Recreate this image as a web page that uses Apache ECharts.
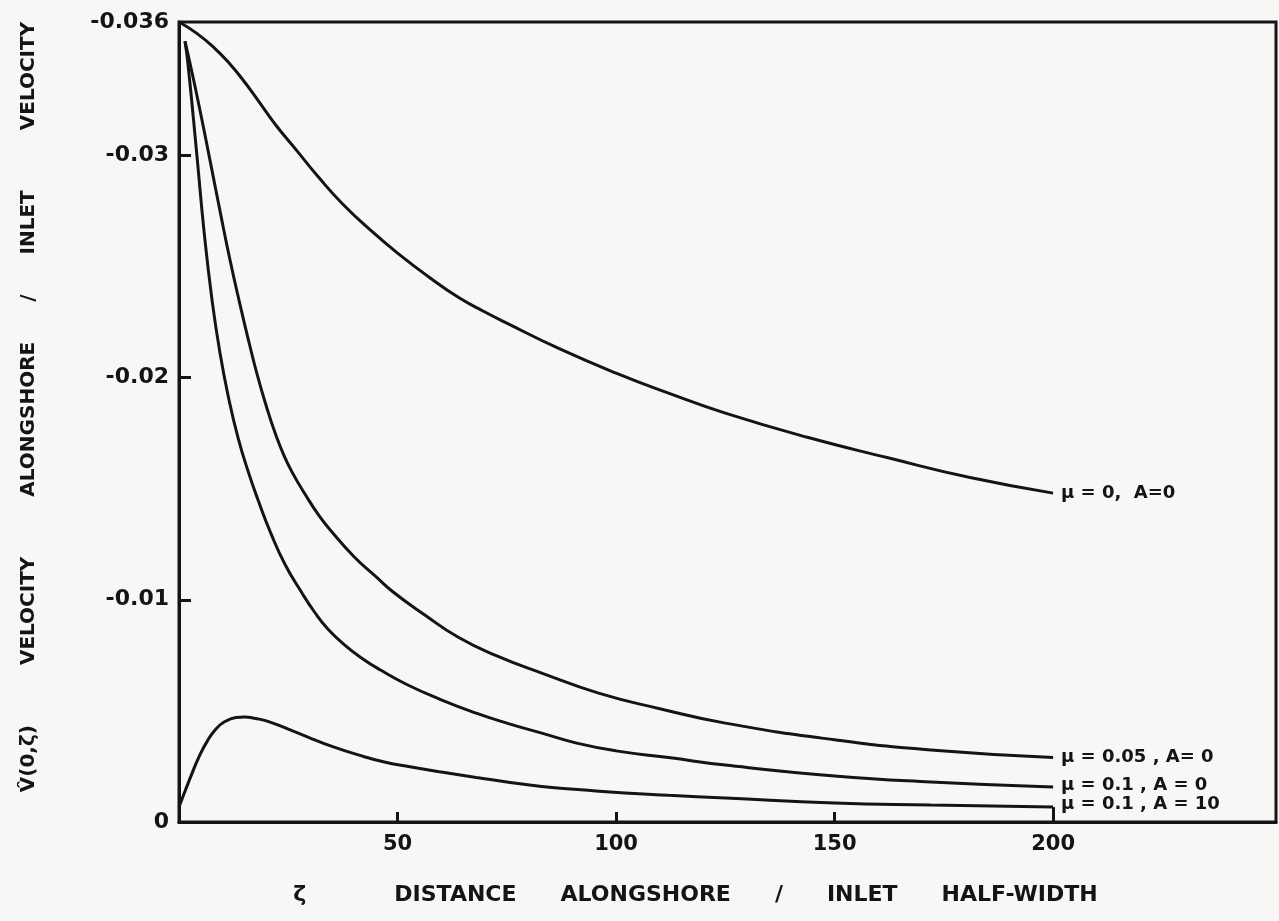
<!DOCTYPE html>
<html><head><meta charset="utf-8">
<script src="https://cdn.jsdelivr.net/npm/echarts@6/dist/echarts.min.js"></script>
<style>html,body{margin:0;padding:0;background:#f7f7f5}#c{width:1279px;height:921px}</style>
</head><body><div id="c"></div>
<script>
// distance alongshore / inlet half-width (x) and velocity ratio (y)
const xMu0A0 = [0, 4, 8, 11.7, 15, 17.8, 22, 27, 32, 37.5, 44, 50, 57, 64, 70, 75, 87, 100, 112, 125, 144, 162, 181, 200];
const yMu0A0 = [-0.0360, -0.0355, -0.03485, -0.0341, -0.0333, -0.03255, -0.0314, -0.0302, -0.0290, -0.0278, -0.0266, -0.0256, -0.02455, -0.0236, -0.02295, -0.02245, -0.0213, -0.0202, -0.0193, -0.0184, -0.0173, -0.0164, -0.0155, -0.0148];

const xMu005A0 = [1.37, 2.52, 4.8, 7.09, 9.38, 11.66, 14, 16, 18, 20, 22, 24, 26, 29, 32, 35, 40, 45, 49, 56, 64, 73, 83, 96, 110, 125, 150, 172, 200];
const yMu005A0 = [-0.03513, -0.03414, -0.03203, -0.02978, -0.0275, -0.0253, -0.02325, -0.0216, -0.02005, -0.0187, -0.0175, -0.0165, -0.0157, -0.0147, -0.0138, -0.01305, -0.01195, -0.01105, -0.01035, -0.00935, -0.0083, -0.00745, -0.0067, -0.0058, -0.0051, -0.00445, -0.0037, -0.00324, -0.0029];

const xMu01A0 = [1.37, 2.06, 4.0, 5.72, 7.55, 9.38, 11.43, 13.5, 15.78, 18.07, 21, 24.24, 28, 31, 34, 38, 42, 46, 52, 60, 68, 75, 83, 91, 100, 112, 125, 150, 172, 200];
const yMu01A0 = [-0.03513, -0.0341, -0.0302, -0.0266, -0.0235, -0.0211, -0.0190, -0.0173, -0.0158, -0.0145, -0.0130, -0.0116, -0.01035, -0.00945, -0.0087, -0.00795, -0.00735, -0.00685, -0.0062, -0.0055, -0.0049, -0.00445, -0.0040, -0.00355, -0.0032, -0.0029, -0.00256, -0.00207, -0.0018, -0.00157];

const xMu01A10 = [0, 1.5, 3, 4.5, 6.5, 8.5, 10.5, 13, 15, 17.5, 20.5, 25, 29.5, 35, 41, 47, 52.5, 60, 68, 75, 83, 92, 102, 112, 125, 150, 172, 200];
const yMu01A10 = [-0.00067, -0.00145, -0.0022, -0.0029, -0.00365, -0.0042, -0.00452, -0.0047, -0.00473, -0.00466, -0.00452, -0.00418, -0.00382, -0.0034, -0.00302, -0.0027, -0.0025, -0.00225, -0.0020, -0.0018, -0.0016, -0.00145, -0.0013, -0.0012, -0.00108, -0.00085, -0.00076, -0.00067];

const seriesLabels = ['\u03BC = 0,  A=0', '\u03BC = 0.05 , A= 0', '\u03BC = 0.1 , A = 0', '\u03BC = 0.1 , A = 10'];
const xTicks = [50, 100, 150, 200];
const yTicks = [-0.036, -0.03, -0.02, -0.01, 0];

const ink = '#141414';
const font = '"DejaVu Sans", sans-serif';
const zip = (xs, ys) => xs.map((x, i) => [x, ys[i]]);
const E = '\u2003';

function lineSeries(name, data, label, offset) {
  return {
    name, type: 'line', data, showSymbol: false, smooth: 0.5,
    lineStyle: { color: ink, width: 3 }, itemStyle: { color: ink },
    endLabel: { show: true, formatter: () => label, color: ink, fontFamily: font, fontWeight: 'bold', fontSize: 18, distance: 8, offset: offset || [0, 0] },
    emphasis: { disabled: true }
  };
}

const a10 = zip(xMu01A10, yMu01A10);
const last = a10[a10.length - 1];

const chart = echarts.init(document.getElementById('c'), null, { renderer: 'canvas' });
chart.setOption({
  animation: false,
  backgroundColor: '#f7f7f5',
  grid: { left: 179, right: 3, top: 22, bottom: 99, show: true, borderColor: ink, borderWidth: 3, backgroundColor: 'transparent' },
  xAxis: {
    type: 'value', min: 0, max: 251,
    name: '\u03B6' + E + E + E + E + 'DISTANCE' + E + E + 'ALONGSHORE' + E + E + '/' + E + E + 'INLET' + E + E + 'HALF-WIDTH',
    nameLocation: 'middle', nameGap: 62,
    nameTextStyle: { color: ink, fontFamily: font, fontWeight: 'bold', fontSize: 22, padding: [0, 64, 0, 0] },
    axisLine: { show: true, onZero: false, lineStyle: { color: ink, width: 3 } },
    axisTick: { show: true, inside: true, length: 10, customValues: xTicks, lineStyle: { color: ink, width: 3 } },
    axisLabel: { customValues: xTicks, color: ink, fontFamily: font, fontWeight: 'bold', fontSize: 21, margin: 12 },
    splitLine: { show: false }
  },
  yAxis: {
    type: 'value', min: -0.036, max: 0, inverse: true,
    name: 'V\u0302(0,\u03B6)' + E + E + E + 'VELOCITY' + E + E + E + 'ALONGSHORE' + E + E + '/' + E + E + 'INLET' + E + E + E + 'VELOCITY',
    nameLocation: 'middle', nameGap: 140, nameRotate: 90,
    nameTextStyle: { color: ink, fontFamily: font, fontWeight: 'bold', fontSize: 20, padding: [0, 0, 0, 30] },
    axisLine: { show: true, onZero: false, lineStyle: { color: ink, width: 3 } },
    axisTick: { show: true, inside: true, length: 12, customValues: [-0.03, -0.02, -0.01], lineStyle: { color: ink, width: 3 } },
    axisLabel: { customValues: yTicks, color: ink, fontFamily: font, fontWeight: 'bold', fontSize: 22, margin: 10,
      formatter: v => v === 0 ? '0' : String(v) },
    splitLine: { show: false }
  },
  series: [
    lineSeries('mu0A0', zip(xMu0A0, yMu0A0), seriesLabels[0]),
    lineSeries('mu005A0', zip(xMu005A0, yMu005A0), seriesLabels[1]),
    lineSeries('mu01A0', zip(xMu01A0, yMu01A0), seriesLabels[2], [0, -2]),
    Object.assign(lineSeries('mu01A10', a10, seriesLabels[3], [0, -3]), {
      markLine: { silent: true, symbol: 'none', label: { show: false },
        lineStyle: { color: ink, width: 3, type: 'solid' },
        data: [[{ coord: [last[0], last[1]] }, { coord: [last[0], 0] }]] }
    })
  ]
});
</script>
</body></html>
